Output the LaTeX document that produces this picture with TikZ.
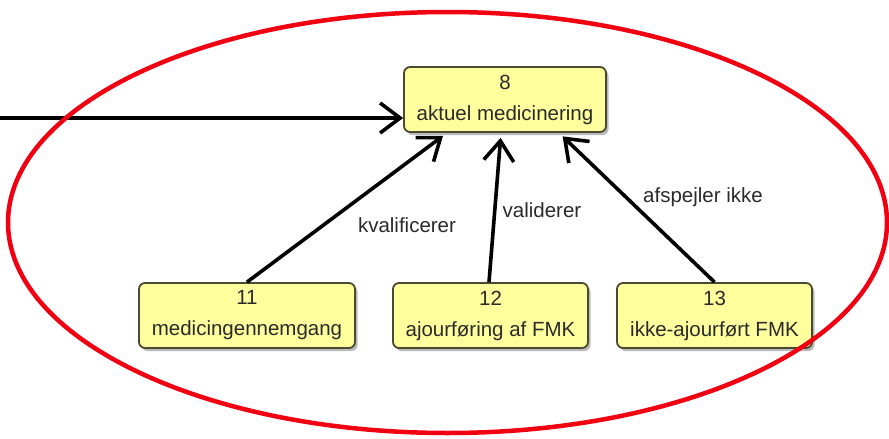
\documentclass[tikz,border=0pt]{standalone}
\usepackage{fontspec}
\setmainfont{Liberation Sans}
\usetikzlibrary{arrows.meta,shadows}
\definecolor{boxfill}{HTML}{FFFF9E}
\definecolor{boxline}{HTML}{4A4A30}
\definecolor{txt}{HTML}{2A2A2A}
\definecolor{ringred}{HTML}{F00010}
\begin{document}
\begin{tikzpicture}[x=1pt,y=-1pt,
  concept/.style={draw=boxline, line width=1.8pt, fill=boxfill, rounded corners=6pt,
    minimum height=65pt, inner sep=0pt, align=center, text=txt,
    font=\fontsize{20.5}{31}\selectfont,
    drop shadow={shadow xshift=2.5pt, shadow yshift=-3pt, opacity=0.45, fill=black!60}},
  rel/.style={line width=3.6pt, -{Straight Barb[length=20pt,width=30pt,line width=3.6pt]}},
  rellabel/.style={text=txt, font=\fontsize{20.5}{24}\selectfont, inner sep=0pt}]
\useasboundingbox (0,0) rectangle (889,439);

% concept boxes
\node[concept, minimum width=202pt] (n8)  at (505,99.5)  {8\\aktuel medicinering};
\node[concept, minimum width=216pt] (n11) at (247,315.5) {11\\medicingennemgang};
\node[concept, minimum width=195pt] (n12) at (490.5,315.5) {12\\ajourføring af FMK};
\node[concept, minimum width=195pt] (n13) at (714.5,315.5) {13\\ikke-ajourført FMK};

% incoming relation from the left edge
\coordinate (src) at (0,118);
\draw[rel] (src) -- (src -| n8.west);

% relations towards concept 8
\draw[rel, shorten >=5pt] (n11.north) -- ([xshift=-58pt]n8.south);
\draw[rel, shorten >=5pt] ([xshift=-1.5pt]n12.north) -- ([xshift=-4pt]n8.south);
\draw[rel, shorten >=5pt] (n13.north) -- ([xshift=54pt]n8.south);

% relation labels
\node[rellabel] (l11) at (407,225) {kvalificerer};
\node[rellabel] (l12) at (542,210) {validerer};
\node[rellabel] (l13) at (703,197) {afspejler ikke};

% red ring around the group
\draw[ringred, line width=4.5pt] (447.5,222.5) ellipse [x radius=439.5, y radius=210.5];
\end{tikzpicture}
\end{document}
